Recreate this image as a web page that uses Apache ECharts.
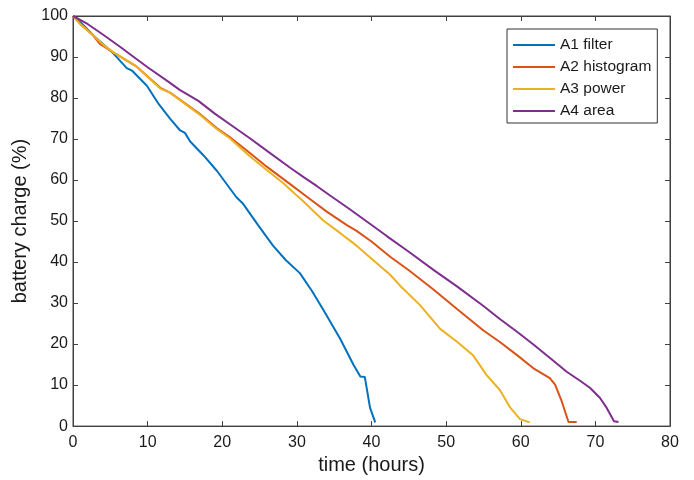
<!DOCTYPE html>
<html>
<head>
<meta charset="utf-8">
<script src="https://cdn.jsdelivr.net/npm/echarts@6/dist/echarts.min.js"></script>
<style>
html,body{margin:0;padding:0;background:#fff;}
#chart{width:694px;height:480px;}
</style>
</head>
<body>
<div id="chart"></div>
<script>
// ---- data ----
const seriesNames = ['A1 filter', 'A2 histogram', 'A3 power', 'A4 area'];
const seriesColors = ['#0072BD', '#D95319', '#EDB120', '#7E2F8E'];

const a1Hours  = [0, 1, 2.7, 4, 5.4, 7.2, 7.9, 9.9, 11.5, 13.0, 14.3, 15.0, 15.7, 17.5, 19.3, 21.9, 22.8, 24.8, 26.8, 28.5, 30.4, 32, 33.5, 35.8, 37.6, 38.5, 39.1, 39.8, 40.5];
const a1Charge = [100, 98.5, 95.3, 93.2, 90.9, 87.3, 86.7, 83.0, 78.5, 75.0, 72.2, 71.5, 69.4, 66.0, 62.2, 55.8, 54.2, 49.0, 44.0, 40.5, 37.3, 33.0, 28.5, 21.3, 14.9, 12.1, 12.0, 4.5, 0.9];

const a2Hours  = [0, 1, 2.7, 3.6, 5.5, 8.5, 11.7, 13.0, 16.8, 19.3, 21, 23.7, 26, 29.1, 31.3, 34, 36.7, 38.0, 40, 42.5, 45, 48.3, 51.5, 55.0, 57.2, 59.5, 61.7, 63.9, 64.6, 65.5, 66.4, 67.5];
const a2Charge = [100, 98, 95.3, 93.2, 91, 87.7, 82.5, 81.3, 76.4, 72.6, 70.5, 66.6, 63.2, 59.0, 56.0, 52.3, 49.0, 47.6, 45.0, 41.3, 38.0, 33.3, 28.5, 23.3, 20.5, 17.3, 14.1, 11.7, 10.1, 6.0, 1.0, 1.0];

const a3Hours  = [0, 1, 2.7, 4.1, 5.5, 8.5, 11.7, 13.0, 16.8, 19.3, 21, 23.7, 26, 28.2, 30, 31, 33.5, 36, 38.0, 40.2, 42.5, 43.8, 46.5, 49.2, 51.5, 53.6, 55.4, 57.2, 58.6, 59.9, 61.2];
const a3Charge = [100, 98, 95.3, 92.9, 91, 87.7, 82.3, 81.3, 76.2, 72.4, 70.2, 65.8, 62.4, 59.2, 56.2, 54.6, 50.2, 46.8, 44.0, 40.5, 36.9, 34.3, 29.5, 23.7, 20.5, 17.3, 12.5, 8.8, 4.5, 1.7, 0.9];

const a4Hours  = [0, 2, 4, 6.3, 8.5, 10, 13.0, 14.3, 16.8, 19, 21.5, 23.7, 26, 29.1, 31, 32.7, 34.4, 37, 40.2, 42, 45, 48.3, 51.5, 55.0, 57.2, 59.5, 61.7, 64, 66.2, 68, 69.3, 70.6, 71.5, 72.5, 73.1];
const a4Charge = [100, 98, 95.5, 92.5, 89.5, 87.5, 83.7, 82.0, 79.3, 76.2, 73.0, 70.2, 67.1, 63.0, 60.6, 58.5, 56.3, 53.0, 48.8, 46.4, 42.5, 38.1, 34.0, 29.3, 26.1, 23.0, 19.9, 16.5, 13.2, 11.0, 9.3, 6.9, 4.5, 1.2, 1.0];

const xTicks = [0, 10, 20, 30, 40, 50, 60, 70, 80];
const yTicks = [0, 10, 20, 30, 40, 50, 60, 70, 80, 90, 100];
const xLabel = 'time (hours)';
const yLabel = 'battery charge (%)';

// ---- build chart ----
const FONT = "'Liberation Sans', Arial, Helvetica, sans-serif";
const AXIS_COLOR = '#404040';
const TEXT_COLOR = '#1a1a1a';

function pairs(xs, ys) { return xs.map((x, i) => [x, ys[i]]); }
const allHours = [a1Hours, a2Hours, a3Hours, a4Hours];
const allCharge = [a1Charge, a2Charge, a3Charge, a4Charge];

const xMin = xTicks[0], xMax = xTicks[xTicks.length - 1], xInt = xTicks[1] - xTicks[0];
const yMin = yTicks[0], yMax = yTicks[yTicks.length - 1], yInt = yTicks[1] - yTicks[0];

const tickStyle = { show: true, inside: true, length: 5, lineStyle: { color: AXIS_COLOR, width: 1 } };
const lineStyleAxis = { show: true, onZero: false, lineStyle: { color: AXIS_COLOR, width: 1 } };

const chart = echarts.init(document.getElementById('chart'), null, { renderer: 'canvas' });
chart.setOption({
  animation: false,
  backgroundColor: '#ffffff',
  grid: {
    left: 73, right: 24, top: 16, bottom: 48,
    show: true, borderColor: AXIS_COLOR, borderWidth: 1, backgroundColor: 'transparent'
  },
  legend: {
    data: seriesNames,
    orient: 'vertical',
    left: 507, top: 29,
    padding: [8, 6, 4, 6],
    itemGap: 6,
    itemWidth: 42, itemHeight: 2,
    icon: 'rect',
    backgroundColor: '#ffffff',
    borderColor: '#333333', borderWidth: 1, borderRadius: 0,
    textStyle: { fontFamily: FONT, fontSize: 15.5, color: TEXT_COLOR, lineHeight: 15 }
  },
  xAxis: [{
    type: 'value', min: xMin, max: xMax, interval: xInt,
    position: 'bottom',
    name: xLabel, nameLocation: 'middle', nameGap: 27,
    nameTextStyle: { fontFamily: FONT, fontSize: 20, color: TEXT_COLOR },
    axisLine: lineStyleAxis,
    axisTick: tickStyle,
    axisLabel: { fontFamily: FONT, fontSize: 16, color: TEXT_COLOR, margin: 8 },
    splitLine: { show: false }
  }, {
    type: 'value', min: xMin, max: xMax, interval: xInt,
    position: 'top',
    axisLine: lineStyleAxis,
    axisTick: tickStyle,
    axisLabel: { show: false },
    splitLine: { show: false }
  }],
  yAxis: [{
    type: 'value', min: yMin, max: yMax, interval: yInt,
    position: 'left',
    name: yLabel, nameLocation: 'middle', nameGap: 30, nameRotate: 90,
    nameTextStyle: { fontFamily: FONT, fontSize: 20, color: TEXT_COLOR },
    axisLine: lineStyleAxis,
    axisTick: tickStyle,
    axisLabel: { fontFamily: FONT, fontSize: 16, color: TEXT_COLOR, margin: 5 },
    splitLine: { show: false }
  }, {
    type: 'value', min: yMin, max: yMax, interval: yInt,
    position: 'right',
    axisLine: lineStyleAxis,
    axisTick: tickStyle,
    axisLabel: { show: false },
    splitLine: { show: false }
  }],
  series: seriesNames.map((name, i) => ({
    name: name,
    type: 'line',
    xAxisIndex: 0, yAxisIndex: 0,
    data: pairs(allHours[i], allCharge[i]),
    symbol: 'none',
    smooth: false,
    color: seriesColors[i],
    lineStyle: { color: seriesColors[i], width: 2 },
    z: 2 + i
  }))
});
</script>
</body>
</html>
